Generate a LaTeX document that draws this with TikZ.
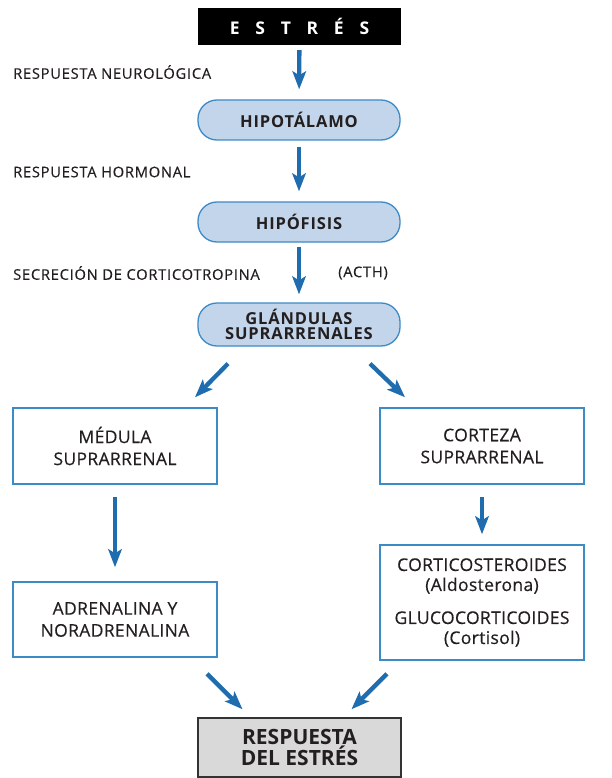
\documentclass[tikz,border=0pt]{standalone}
\usepackage{fontspec}
\setmainfont{Open Sans}
\usetikzlibrary{arrows.meta,calc}
\definecolor{arrblue}{HTML}{1F6DAE}
\definecolor{boxblue}{HTML}{3C8AC6}
\definecolor{pillfill}{HTML}{C3D5EA}
\definecolor{txt}{HTML}{231F20}
\definecolor{grayfill}{HTML}{D9D9D9}
\tikzset{
  x=1pt,y=1pt,
  arr/.style={draw=arrblue,line width=4.3pt,-{Stealth[length=18pt,width=13.5pt,inset=4pt]}},
  pill/.style={draw=boxblue,line width=1.3pt,fill=pillfill,rounded corners=19pt,minimum width=202pt,minimum height=40pt,text=txt,font=\fontsize{16.5}{15.5}\selectfont\bfseries\addfontfeatures{LetterSpace=5},align=center,inner sep=0pt},
  bluebox/.style={draw=boxblue,line width=1.5pt,fill=white,minimum width=204pt,text=txt,font=\fontsize{17.5}{22}\selectfont\addfontfeatures{LetterSpace=2,FakeBold=0.4},align=center,inner sep=0pt},
  lbl/.style={anchor=west,text=txt,font=\fontsize{14.7}{16}\selectfont\addfontfeatures{LetterSpace=5,FakeBold=0.4},inner sep=0pt},
}
\begin{document}
\begin{tikzpicture}
\useasboundingbox (0,0) rectangle (611,-778);
\node[fill=black,minimum width=203pt,minimum height=37pt,text=white,font=\fontsize{17.5}{18}\selectfont\bfseries\addfontfeatures{LetterSpace=90},inner sep=0pt] (estres) at (299.5,-26.5) {ESTRÉS};
\node[pill] (hipo) at (299,-120) {HIPOTÁLAMO};
\node[pill] (hipof) at (299,-222) {HIPÓFISIS};
\node[pill,minimum height=43pt] (glan) at (299,-324.5) {GLÁNDULAS\\SUPRARRENALES};
\node[bluebox,minimum height=76pt] (medula) at (115,-446) {MÉDULA\\SUPRARRENAL};
\node[bluebox,minimum height=76pt] (corteza) at (482,-446) {CORTEZA\\SUPRARRENAL};
\node[bluebox,minimum height=75pt] (adren) at (115,-619.5) {ADRENALINA Y\\NORADRENALINA};
\node[bluebox,minimum height=115pt,font=\fontsize{17.5}{20}\selectfont\addfontfeatures{LetterSpace=2,FakeBold=0.4}] (cortico) at (482,-602.5) {CORTICOSTEROIDES\\(Aldosterona)\\[13pt]GLUCOCORTICOIDES\\(Cortisol)};
\node[draw=black!80,line width=1.5pt,fill=grayfill,minimum width=203pt,minimum height=59pt,text=txt,font=\fontsize{21}{21.5}\selectfont\bfseries,align=center,inner sep=0pt] (resp) at (299.5,-747.5) {RESPUESTA\\DEL ESTRÉS};
\node[lbl] (l1) at (13,-72) {RESPUESTA NEUROLÓGICA};
\node[lbl] (l2) at (13,-172) {RESPUESTA HORMONAL};
\node[lbl] (l3) at (13,-273) {SECRECIÓN DE CORTICOTROPINA};
\node[lbl] (l4) at (338,-273) {(ACTH)};
\draw[arr,shorten <=5pt,shorten >=10pt] (estres) -- (hipo);
\draw[arr,shorten <=6pt,shorten >=10pt] (hipo) -- (hipof);
\draw[arr,shorten <=4pt,shorten >=8pt] (hipof) -- (glan);
\draw[arr] ($(glan.south)+(-71,-17)$) -- ($(medula.north)+(80,10)$);
\draw[arr] ($(glan.south)+(71,-17)$) -- ($(corteza.north)+(-77,10)$);
\draw[arr,shorten <=12pt,shorten >=14pt] (medula) -- (adren);
\draw[arr,shorten <=12pt,shorten >=10pt] (corteza) -- (cortico);
\draw[arr] ($(adren.south)+(92,-16)$) -- ($(resp.north)+(-57,8)$);
\draw[arr] ($(cortico.south)+(-95,-13)$) -- ($(resp.north)+(52,8)$);
\end{tikzpicture}
\end{document}
